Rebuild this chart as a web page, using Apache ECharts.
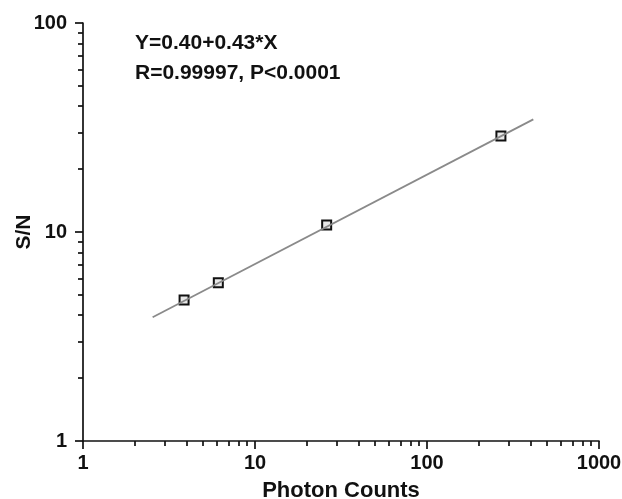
<!DOCTYPE html>
<html>
<head>
<meta charset="utf-8">
<script src="https://cdn.jsdelivr.net/npm/echarts@6/dist/echarts.min.js"></script>
<style>
html,body{margin:0;padding:0;background:#fff;}
#c{width:622px;height:499px;}
</style>
</head>
<body>
<div id="c"></div>
<script>
// ---- data ----
const photonCounts = [3.87, 6.12, 26.1, 269];
const snValues = [4.73, 5.72, 10.8, 28.8];
const fitX = [2.54, 415];
const fitY = [3.91, 34.6];
const xMajorTicks = [1, 10, 100, 1000];
const yMajorTicks = [1, 10, 100];
const xMinorTicks = [2,3,4,5,6,7,8,9,20,30,40,50,60,70,80,90,200,300,400,500,600,700,800,900];
const yMinorTicks = [2,3,4,5,6,7,8,9,20,30,40,50,60,70,80,90];
const annotationLines = ['Y=0.40+0.43*X', 'R=0.99997, P<0.0001'];
const xName = 'Photon Counts';
const yName = 'S/N';

const FONT = '"Liberation Sans", Arial, sans-serif';
const chart = echarts.init(document.getElementById('c'), null, {renderer: 'canvas'});

const axisLineStyle = {color: '#111', width: 1.7};
const labelStyle = {fontFamily: FONT, fontWeight: 'bold', fontSize: 20, color: '#111'};

const option = {
  animation: false,
  backgroundColor: '#fff',
  grid: {left: 83, right: 23, top: 23, bottom: 58, containLabel: false, outerBoundsMode: 'none'},
  xAxis: [
    {
      type: 'log', logBase: 10, min: 1, max: 1000, position: 'bottom',
      name: xName, nameLocation: 'middle', nameGap: 39,
      nameTextStyle: {fontFamily: FONT, fontWeight: 'bold', fontSize: 22, color: '#111'},
      axisLine: {show: true, lineStyle: axisLineStyle},
      axisTick: {show: true, inside: false, length: 8, lineStyle: axisLineStyle, customValues: xMajorTicks},
      axisLabel: Object.assign({show: true, margin: 12, customValues: xMajorTicks, hideOverlap: false, formatter: v => String(Math.round(v))}, labelStyle),
      splitLine: {show: false}
    },
    {
      type: 'log', logBase: 10, min: 1, max: 1000, position: 'bottom', gridIndex: 0,
      axisLine: {show: false},
      axisTick: {show: true, inside: false, length: 5, lineStyle: axisLineStyle, customValues: xMinorTicks},
      axisLabel: {show: false},
      splitLine: {show: false}
    }
  ],
  yAxis: [
    {
      type: 'log', logBase: 10, min: 1, max: 100, position: 'left',
      name: yName, nameLocation: 'middle', nameGap: 48, nameRotate: 90, nameMoveOverlap: false,
      nameTextStyle: {fontFamily: FONT, fontWeight: 'bold', fontSize: 21, color: '#111'},
      axisLine: {show: true, lineStyle: axisLineStyle},
      axisTick: {show: true, inside: false, length: 8, lineStyle: axisLineStyle, customValues: yMajorTicks},
      axisLabel: Object.assign({show: true, margin: 16, customValues: yMajorTicks, formatter: v => String(Math.round(v))}, labelStyle),
      splitLine: {show: false}
    },
    {
      type: 'log', logBase: 10, min: 1, max: 100, position: 'left', gridIndex: 0,
      axisLine: {show: false},
      axisTick: {show: true, inside: false, length: 5, lineStyle: axisLineStyle, customValues: yMinorTicks},
      axisLabel: {show: false},
      splitLine: {show: false}
    }
  ],
  series: [
    {
      type: 'line', xAxisIndex: 0, yAxisIndex: 0,
      data: fitX.map((x, i) => [x, fitY[i]]),
      symbol: 'none', silent: true,
      lineStyle: {color: '#8a8a8a', width: 1.8}
    },
    {
      type: 'scatter', xAxisIndex: 0, yAxisIndex: 0,
      data: photonCounts.map((x, i) => [x, snValues[i]]),
      symbol: 'rect', symbolSize: 9,
      itemStyle: {color: '#e8e8e8', borderColor: '#111', borderWidth: 2, opacity: 1}
    }
  ],
  graphic: annotationLines.map((t, i) => ({
    type: 'text', left: 135, top: 33 + i * 30,
    style: {text: t, fontFamily: FONT, fontWeight: 'bold', fontSize: 21, fill: '#111'}
  }))
};
chart.setOption(option);
</script>
</body>
</html>
